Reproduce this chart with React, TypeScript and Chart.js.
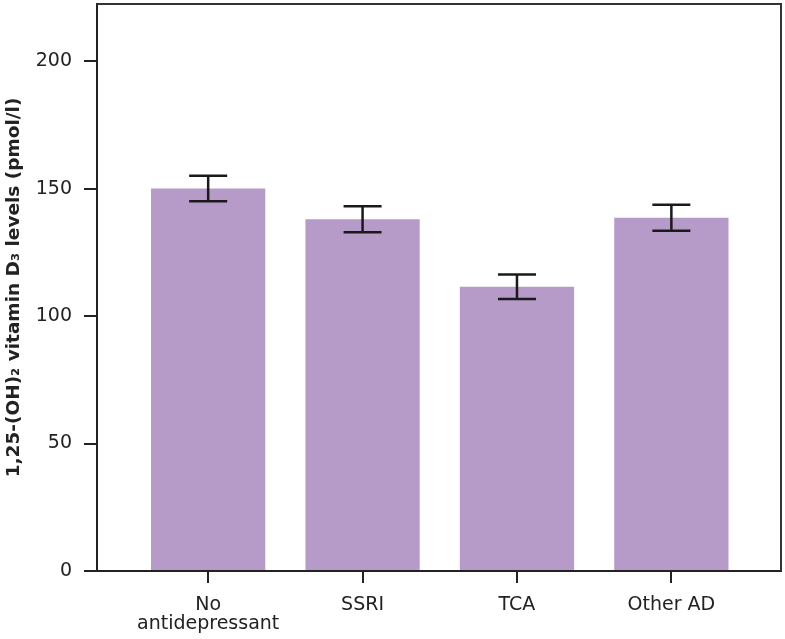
import React, { useEffect, useRef } from "react";
import { Chart, registerables } from "chart.js";

Chart.register(...registerables);

const categories: string[][] = [["No", "antidepressant"], ["SSRI"], ["TCA"], ["Other AD"]];
const means: number[] = [150, 138, 111.5, 138.6];
const errors: number[] = [5, 5.1, 4.8, 5.1];
const yTicks: number[] = [0, 50, 100, 150, 200];
const yTitle = "1,25-(OH)\u2082 vitamin D\u2083 levels (pmol/l)";

const INK = "#222222";
const FONT = "'DejaVu Sans', sans-serif";

const framePlugin = {
  id: "frame",
  afterDraw(chart: any) {
    const { ctx, chartArea } = chart;
    ctx.save();
    ctx.strokeStyle = "#333333";
    ctx.lineWidth = 2;
    ctx.beginPath();
    ctx.moveTo(chartArea.left, chartArea.top);
    ctx.lineTo(chartArea.right, chartArea.top);
    ctx.lineTo(chartArea.right, chartArea.bottom);
    ctx.stroke();
    ctx.restore();
  },
};

const errorBarPlugin = {
  id: "errorBars",
  afterDatasetsDraw(chart: any) {
    const { ctx } = chart;
    const xs = chart.scales.x;
    const ys = chart.scales.y;
    ctx.save();
    ctx.strokeStyle = "#1a1a1a";
    ctx.lineWidth = 2.5;
    means.forEach((m, i) => {
      const x = xs.getPixelForValue(i);
      const yHi = ys.getPixelForValue(m + errors[i]);
      const yLo = ys.getPixelForValue(m - errors[i]);
      const half = 19;
      ctx.beginPath();
      ctx.moveTo(x, yHi);
      ctx.lineTo(x, yLo);
      ctx.moveTo(x - half, yHi);
      ctx.lineTo(x + half, yHi);
      ctx.moveTo(x - half, yLo);
      ctx.lineTo(x + half, yLo);
      ctx.stroke();
    });
    ctx.restore();
  },
};

export default function App() {
  const ref = useRef<HTMLCanvasElement | null>(null);
  useEffect(() => {
    if (!ref.current) return;
    const chart = new Chart(ref.current, {
      type: "bar",
      data: {
        datasets: [
          {
            data: means.map((m, i) => ({ x: i, y: m })),
            backgroundColor: "#b69ac8",
            borderWidth: 0,
            barPercentage: 0.74,
            categoryPercentage: 1,
          },
        ],
      },
      options: {
        responsive: false,
        animation: false,
        layout: { padding: { top: 4, right: 4, left: 0, bottom: 0 } },
        plugins: { legend: { display: false }, tooltip: { enabled: false } },
        scales: {
          x: {
            type: "linear",
            offset: false,
            min: -0.72,
            max: 3.71,
            afterBuildTicks: (axis: any) => {
              axis.ticks = categories.map((_, i) => ({ value: i }));
            },
            afterFit: (axis: any) => {
              axis.height = 68;
              axis.paddingLeft = 0;
              axis.paddingRight = 0;
            },
            ticks: {
              callback: (v: any) => categories[v] ?? "",
              color: INK,
              font: { family: FONT, size: 19, lineHeight: 1.0 },
              padding: 13,
              maxRotation: 0,
              autoSkip: false,
            },
            grid: {
              offset: false,
              drawOnChartArea: false,
              drawTicks: true,
              tickLength: 12,
              color: INK,
              lineWidth: 2,
            },
            border: { display: true, color: INK, width: 2 },
          },
          y: {
            min: 0,
            max: 222.4,
            afterBuildTicks: (axis: any) => {
              axis.ticks = yTicks.map((v) => ({ value: v }));
            },
            afterFit: (axis: any) => {
              axis.width = 97;
              axis.paddingTop = 0;
              axis.paddingBottom = 0;
            },
            ticks: {
              color: INK,
              font: { family: FONT, size: 19 },
              padding: 12,
            },
            grid: {
              drawOnChartArea: false,
              drawTicks: true,
              tickLength: 13,
              color: INK,
              lineWidth: 2,
            },
            border: { display: true, color: INK, width: 2 },
            title: {
              display: true,
              text: yTitle,
              color: INK,
              font: { family: FONT, size: 18.5, weight: "bold", lineHeight: 1.2 },
              padding: { top: 3, bottom: 0 },
            },
          },
        },
      },
      plugins: [framePlugin, errorBarPlugin],
    });
    return () => chart.destroy();
  }, []);
  return (
    <div style={{ position: "fixed", left: 0, top: 0, width: 785, height: 639, background: "#fff" }}>
      <canvas ref={ref} width={785} height={639} />
    </div>
  );
}
